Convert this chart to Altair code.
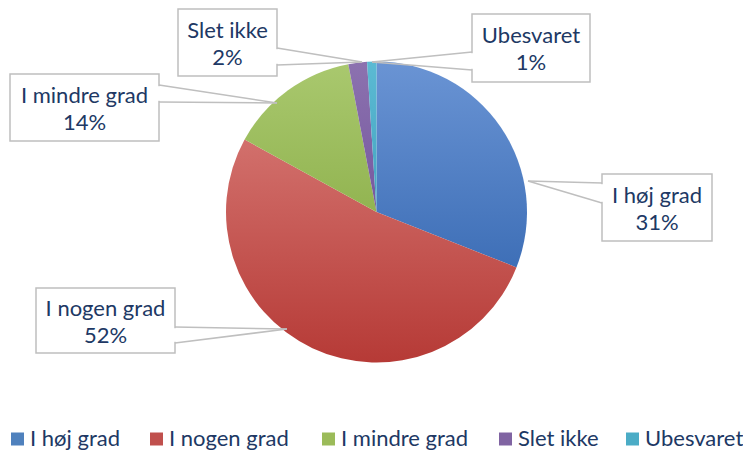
import math
import altair as alt
import pandas as pd

# ---- data ----
categories = ["I høj grad", "I nogen grad", "I mindre grad", "Slet ikke", "Ubesvaret"]
values = [31, 52, 14, 2, 1]

# ---- styling ----
flat_colors = ["#4F81BD", "#C0504D", "#9BBB59", "#8064A2", "#4BACC6"]
grad_top = ["#6A94D4", "#D2706C", "#A9C86E", "#8C72AF", "#5CBAD3"]
grad_bot = ["#3E6FB7", "#B63A36", "#92B451", "#76589F", "#43A4C0"]
text_color = "#203864"
border_color = "#BFBFBF"
FONT = "Lato"
FS = 22

# ---- layout (image pixel coordinates) ----
CX, CY, R = 376.5, 212.0, 150.5
box_x0 = [602, 36, 10, 178, 472]
box_x1 = [712, 175, 159, 277, 590]
box_y0 = [174, 288, 74, 9, 14]
box_y1 = [241, 353, 141, 76, 82]
tip_x = [528, 287, 277, 362, 372]
tip_y = [181, 329, 103, 62, 62]
base_x = [602, 175, 159, 277, 472]
base_y0 = [183, 327, 85, 48, 52]
base_y1 = [203, 343, 102, 65, 70]
legend_x = [11, 150, 322, 499, 626]
legend_y = 439
legend_text_y = 446

W, H = 735, 442
xs = alt.Scale(domain=[8, 8 + W], range=[0, W])
ys = alt.Scale(domain=[8, 8 + H], range=[0, H])

# pie table
cum = []
s = 0
for v in values:
    cum.append((s, s + v))
    s += v
pie = pd.DataFrame({
    "cat": categories,
    "value": values,
    "start": [c[0] for c in cum],
    "end": [c[1] for c in cum],
})

theta_scale = alt.Scale(domain=[0, sum(values)], range=[0, 2 * math.pi])
layers = []
for i, c in enumerate(categories):
    grad = alt.Gradient(
        gradient="linear",
        stops=[alt.GradientStop(offset=0, color=grad_top[i]),
               alt.GradientStop(offset=1, color=grad_bot[i])],
        x1=0, x2=0, y1=0, y2=1,
    )
    layers.append(
        alt.Chart(pie[pie["cat"] == c]).mark_arc(
            x=CX - 8, y=CY - 8, radius=R, fill=grad
        ).encode(
            theta=alt.Theta("start:Q", scale=theta_scale, stack=False),
            theta2="end:Q",
        )
    )

# callouts
callouts = pd.DataFrame({
    "label": [f"{c}\n{v}%" for c, v in zip(categories, values)],
    "x0": box_x0, "x1": box_x1, "y0": box_y0, "y1": box_y1,
    "cx": [(a + b) / 2 for a, b in zip(box_x0, box_x1)],
    "cy": [(a + b) / 2 - 5 for a, b in zip(box_y0, box_y1)],
    "tx": tip_x, "ty": tip_y,
    "bx": base_x, "by0": base_y0, "by1": base_y1,
    "by0i": [v + 1.2 for v in base_y0], "by1i": [v - 1.2 for v in base_y1],
})

wedge1 = alt.Chart(callouts).mark_rule(color=border_color, strokeWidth=1.5).encode(
    x=alt.X("tx:Q", scale=xs, axis=None), y=alt.Y("ty:Q", scale=ys, axis=None),
    x2="bx:Q", y2="by0:Q")
wedge2 = alt.Chart(callouts).mark_rule(color=border_color, strokeWidth=1.5).encode(
    x=alt.X("tx:Q", scale=xs, axis=None), y=alt.Y("ty:Q", scale=ys, axis=None),
    x2="bx:Q", y2="by1:Q")
boxes = alt.Chart(callouts).mark_rect(
    fill="white", stroke=border_color, strokeWidth=1.5
).encode(
    x=alt.X("x0:Q", scale=xs, axis=None), x2="x1:Q",
    y=alt.Y("y0:Q", scale=ys, axis=None), y2="y1:Q")
gaps = alt.Chart(callouts).mark_rule(color="white", strokeWidth=3).encode(
    x=alt.X("bx:Q", scale=xs, axis=None),
    y=alt.Y("by0i:Q", scale=ys, axis=None), y2="by1i:Q")
texts = alt.Chart(callouts).mark_text(
    font=FONT, fontSize=FS, color=text_color, align="center", baseline="alphabetic",
    lineBreak="\n", lineHeight=27
).encode(
    x=alt.X("cx:Q", scale=xs, axis=None), y=alt.Y("cy:Q", scale=ys, axis=None),
    text="label:N")

# legend
leg = pd.DataFrame({
    "cat": categories,
    "sx": [x + 6.5 for x in legend_x],
    "tx": [x + 19 for x in legend_x],
    "sy": [legend_y] * len(categories),
    "ty": [legend_text_y] * len(categories),
})
leg_sq = alt.Chart(leg).mark_square(size=169, opacity=1).encode(
    x=alt.X("sx:Q", scale=xs, axis=None), y=alt.Y("sy:Q", scale=ys, axis=None),
    color=alt.Color("cat:N", scale=alt.Scale(domain=categories, range=flat_colors), legend=None))
leg_tx = alt.Chart(leg).mark_text(
    font=FONT, fontSize=FS, color=text_color, align="left", baseline="alphabetic"
).encode(
    x=alt.X("tx:Q", scale=xs, axis=None), y=alt.Y("ty:Q", scale=ys, axis=None),
    text="cat:N")

chart = alt.layer(
    *layers, wedge1, wedge2, boxes, gaps, texts, leg_sq, leg_tx
).properties(
    width=W, height=H, padding=0, autosize=alt.AutoSizeParams(type="none")
).configure(background="white", view=alt.ViewConfig(stroke=None))

chart.save("out.html", embed_options={"renderer": "svg", "actions": False})
